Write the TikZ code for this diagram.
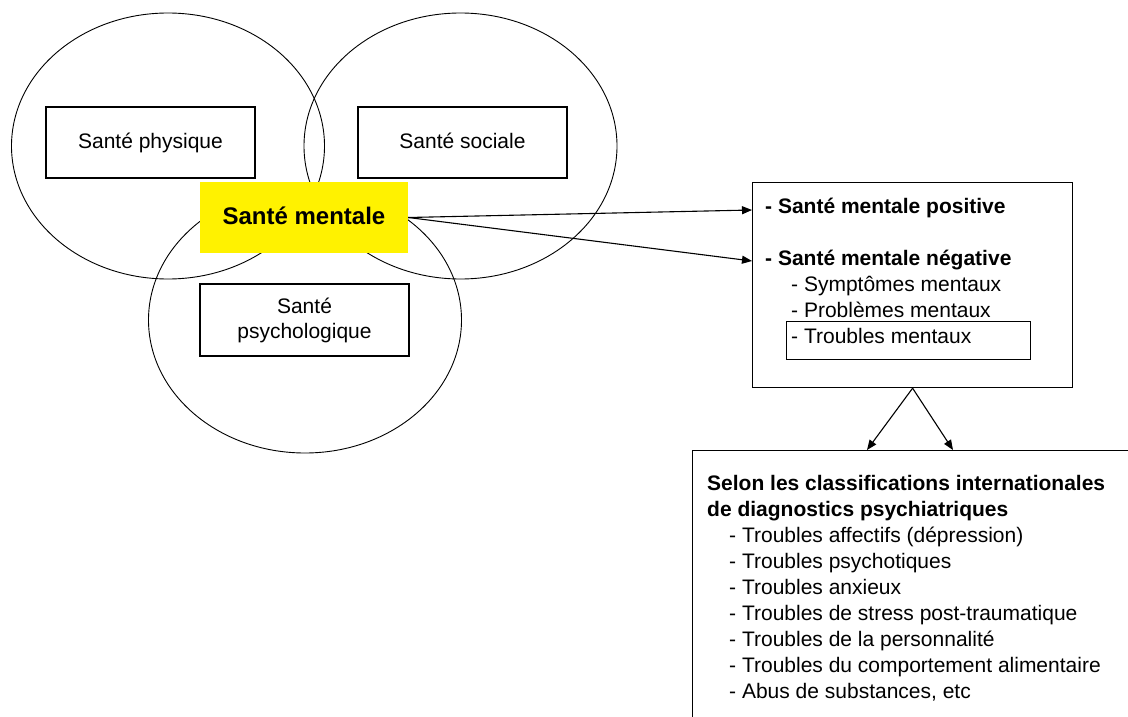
\documentclass[tikz,border=0pt]{standalone}
\usepackage{fontspec}
\setmainfont{Liberation Sans}
\usetikzlibrary{arrows.meta,shapes.geometric}
\begin{document}
\begin{tikzpicture}[x=1pt,y=-1pt,
  ell/.style={draw, ellipse, line width=0.9pt, minimum width=313pt, minimum height=266pt, inner sep=0pt},
  box/.style={draw, line width=1.2pt, fill=white, inner sep=0pt, font=\fontsize{21}{25}\selectfont},
  frame/.style={draw, line width=1.2pt, inner sep=0pt, anchor=north west},
  txt/.style={anchor=base west, inner sep=0pt, font=\fontsize{21}{25}\selectfont},
  btxt/.style={anchor=base west, inner sep=0pt, font=\bfseries\fontsize{21}{25}\selectfont},
  arr/.style={line width=1.1pt, -{Triangle[length=10pt,width=8pt]}}]
\useasboundingbox (0,0) rectangle (1128,717);
\clip (0,0) rectangle (1128,717);
\fill[white] (0,0) rectangle (1128,717);

% ellipses
\node[ell] (ephys) at (168,146) {};
\node[ell] (esoc) at (460.5,146) {};
\node[ell] (epsy) at (305,320) {};

% inner boxes
\node[box, minimum width=209pt, minimum height=71pt, text height=15pt, text depth=4pt] (phys) at (150.5,142.5) {Santé physique};
\node[box, minimum width=209pt, minimum height=71pt, text height=15pt, text depth=4pt] (soc) at (462.5,142.5) {Santé sociale};
\node[box, minimum width=209pt, minimum height=72pt, align=center] (psy) at (304.5,320) {Santé\\psychologique};
\node[fill=yellow, minimum width=208pt, minimum height=71pt, inner sep=0pt, font=\bfseries\fontsize{24}{28}\selectfont, text height=17pt, text depth=4pt] (sm) at (304,217.5) {Santé mentale};

% right box
\node[frame, minimum width=320pt, minimum height=205pt] (rbox) at (752,182) {};
\node[frame, minimum width=244pt, minimum height=38pt] (tm) at (786,321) {};
\node[btxt] (pos) at (765,213) {- Santé mentale positive};
\node[btxt] (neg) at (765,265) {- Santé mentale négative};
\node[txt] (sym) at (791,291) {- Symptômes mentaux};
\node[txt] (pro) at (791,317) {- Problèmes mentaux};
\node[txt] (tro) at (791,343) {- Troubles mentaux};

% bottom box
\node[frame, minimum width=500pt, minimum height=300pt] (diag) at (692,450) {};
\node[btxt] (d1) at (707,490) {Selon les classifications internationales};
\node[btxt] (d2) at (707,516) {de diagnostics psychiatriques};
\node[txt] (i1) at (729,542) {- Troubles affectifs (dépression)};
\node[txt] (i2) at (729,568) {- Troubles psychotiques};
\node[txt] (i3) at (729,594) {- Troubles anxieux};
\node[txt] (i4) at (729,620) {- Troubles de stress post-traumatique};
\node[txt] (i5) at (729,646) {- Troubles de la personnalité};
\node[txt] (i6) at (729,672) {- Troubles du comportement alimentaire};
\node[txt] (i7) at (729,698) {- Abus de substances, etc};

% connectors
\coordinate (p1) at (752,210);
\coordinate (p2) at (752,261);
\coordinate (q1) at (867,450);
\coordinate (q2) at (953,450);
\draw[arr] (sm.east) -- (p1);
\draw[arr] (sm.east) -- (p2);
\draw[arr] (rbox.south) -- (q1);
\draw[arr] (rbox.south) -- (q2);
\end{tikzpicture}
\end{document}
